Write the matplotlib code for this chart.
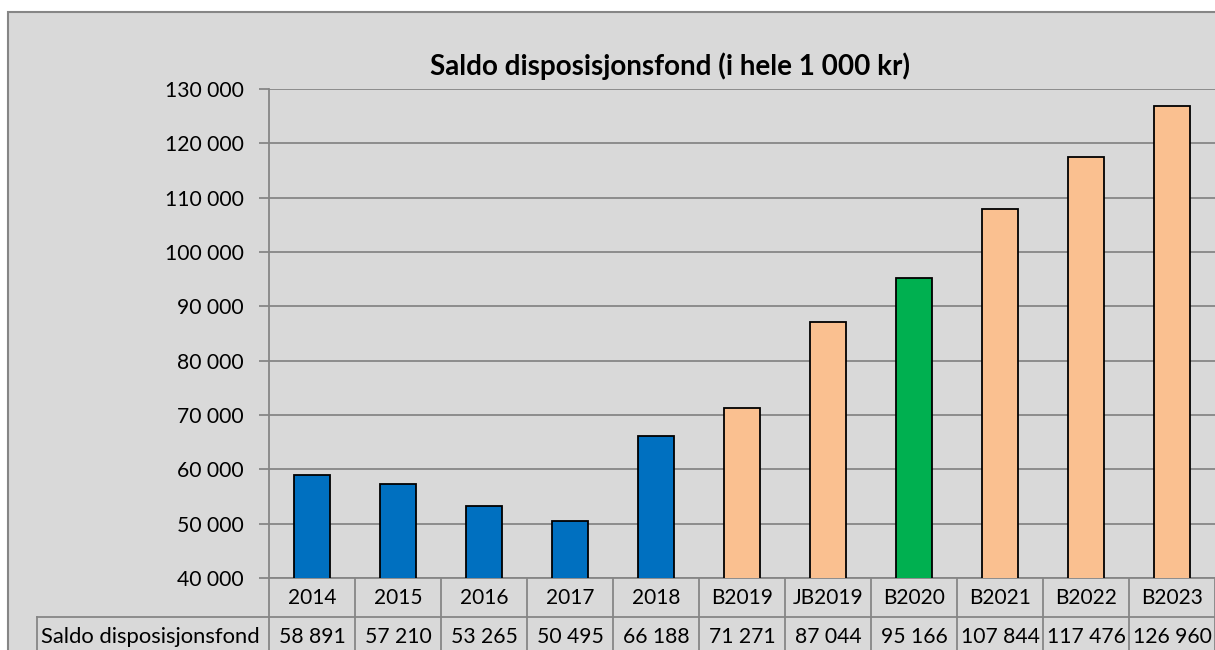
import matplotlib
matplotlib.use('Agg')
import matplotlib.pyplot as plt
from matplotlib.patches import Rectangle
import matplotlib.transforms as mtransforms

# data
categories = ['2014', '2015', '2016', '2017', '2018', 'B2019', 'JB2019',
              'B2020', 'B2021', 'B2022', 'B2023']
saldo = [58891, 57210, 53265, 50495, 66188, 71271, 87044, 95166,
         107844, 117476, 126960]
bar_colors = ['#0070C0'] * 5 + ['#FAC090'] * 2 + ['#00B050'] + ['#FAC090'] * 3
row_label = 'Saldo disposisjonsfond'
title = 'Saldo disposisjonsfond (i hele 1 000 kr)'

W, H = 1215, 650
GRID = '#868686'
BG = '#D9D9D9'

plt.rcParams['font.family'] = ['Lato', 'DejaVu Sans']


def fmt(v):
    return '{:,}'.format(int(v)).replace(',', ' ')


fig = plt.figure(figsize=(W / 100, H / 100), dpi=100)
fig.patch.set_facecolor('white')

# chart area with outer border
fig.patches.append(Rectangle((8 / W, -0.2), 2, 1.2 - 12 / H,
                             transform=fig.transFigure, facecolor=BG,
                             edgecolor=GRID, lw=1.5, zorder=-10))

left, right, top, bottom = 269, 1215, 89, 578
ax = fig.add_axes([left / W, 1 - bottom / H, (right - left) / W, (bottom - top) / H])
ax.set_facecolor(BG)
ax.patch.set_alpha(0)

x = list(range(len(categories)))
ax.bar(x, saldo, width=0.41, color=bar_colors, edgecolor='black', lw=1.3, zorder=3)

ax.set_xlim(-0.5, len(categories) - 0.5)
ax.set_ylim(40000, 130000)
ax.set_yticks(range(40000, 130001, 10000))
ax.set_yticklabels([fmt(v) for v in range(40000, 130001, 10000)], fontsize=15.2)
ax.yaxis.grid(True, color=GRID, lw=1.3, zorder=0)
ax.set_axisbelow(True)
ax.tick_params(axis='y', length=7, width=1.3, color=GRID, pad=11)
ax.set_xticks([])
for s in ['top', 'right']:
    ax.spines[s].set_visible(False)
ax.spines['left'].set_color(GRID)
ax.spines['left'].set_linewidth(1.3)
ax.spines['bottom'].set_color(GRID)
ax.spines['bottom'].set_linewidth(1.3)

# data table below the plot (x in data units, y in pixels converted to axes fraction)
ph = bottom - top


def ay(py):
    return (bottom - py) / ph


tr = mtransforms.blended_transform_factory(ax.transData, ax.transAxes)
row1 = 617
for i in range(len(categories) + 1):
    ax.plot([i - 0.5, i - 0.5], [ay(bottom), ay(H + 5)], transform=tr,
            color=GRID, lw=1.3, clip_on=False)
ax.plot([-0.5, len(categories) - 0.5], [ay(row1), ay(row1)], transform=tr,
        color=GRID, lw=1.3, clip_on=False)
# left column of the table
fig.add_artist(plt.Line2D([37 / W, left / W], [1 - row1 / H, 1 - row1 / H],
                          color=GRID, lw=1.3, transform=fig.transFigure))
fig.add_artist(plt.Line2D([37 / W, 37 / W], [1 - row1 / H, -0.05],
                          color=GRID, lw=1.3, transform=fig.transFigure))

for i, (c, v) in enumerate(zip(categories, saldo)):
    ax.text(i, ay(598), c, transform=tr, ha='center', va='center', fontsize=15)
    ax.text(i, ay(637), fmt(v), transform=tr, ha='center', va='center', fontsize=15.2)
fig.text(41 / W, 1 - 637 / H, row_label, ha='left', va='center', fontsize=15.8)

fig.text(670 / W, 1 - 66 / H, title, ha='center', va='center', fontsize=20,
         fontweight='bold')

fig.savefig('out.png', dpi=100, facecolor=fig.get_facecolor())
